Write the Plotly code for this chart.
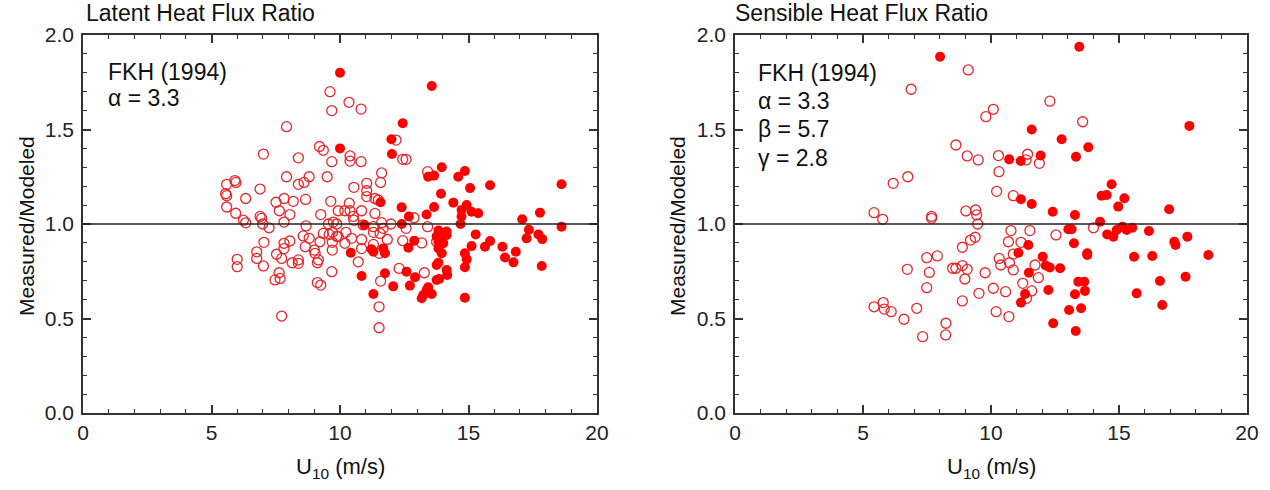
import plotly.graph_objects as go

# ---------------- data ----------------
lat_open_x = [9.61, 9.68, 7.92, 9.2, 9.35, 9.68, 7.02, 8.38, 7.92, 8.38, 8.6, 8.8, 9.5, 5.59, 5.91, 5.95, 5.55, 5.59,
              6.89, 6.33, 5.59, 7.51, 7.83, 8.18, 8.66, 7.64, 8.05, 9.64, 9.25, 9.93, 5.94, 6.24, 6.33, 6.89, 6.99,
              7.82, 8.68, 9.55, 9.74, 6.95, 7.24, 9.87,
              8.57, 8.8, 9.35, 9.58, 9.22, 9.7, 9.7, 9.93, 7.04, 7.82, 8.05, 7.82, 8.65, 9.0, 9.03, 9.16, 9.12,
              6.76, 6.76, 7.53, 7.73, 6.0, 6.0, 7.02, 8.14, 8.38, 8.38, 7.63, 7.67, 7.47, 9.12, 9.25, 9.68, 7.73,
              10.35, 10.82, 12.18, 10.39, 10.39, 10.82, 12.44, 12.57, 11.62, 11.58, 10.54, 11.04, 11.04, 11.04,
              10.36, 10.39, 10.19, 10.52, 10.54, 10.84, 11.36, 11.49, 11.36, 13.41, 12.88,
              10.9, 11.3, 11.62, 11.98, 12.57, 13.41, 9.71, 10.23, 9.87, 11.3, 11.56, 11.68, 10.19, 10.45, 10.84,
              11.3, 11.84, 12.44, 13.18, 13.76, 10.84, 11.53, 10.71, 12.3, 13.28, 11.58, 11.52, 11.52]
lat_open_y = [1.70, 1.60, 1.515, 1.41, 1.39, 1.33, 1.37, 1.35, 1.25, 1.21, 1.22, 1.25, 1.25, 1.21, 1.23, 1.22, 1.16, 1.15,
              1.185, 1.135, 1.09, 1.115, 1.135, 1.12, 1.13, 1.07, 1.05, 1.12, 1.05, 1.07, 1.057, 1.02, 1.006, 1.04, 1.0,
              1.01, 0.99, 1.0, 1.01, 1.03, 0.98, 1.0,
              0.937, 0.924, 0.95, 0.945, 0.906, 0.903, 0.862, 0.933, 0.903, 0.898, 0.91, 0.87, 0.88, 0.862, 0.845, 0.81, 0.795,
              0.853, 0.818, 0.84, 0.818, 0.813, 0.774, 0.778, 0.795, 0.81, 0.792, 0.742, 0.712, 0.704, 0.69, 0.677, 0.748, 0.513,
              1.644, 1.608, 1.444, 1.36, 1.333, 1.33, 1.342, 1.342, 1.27, 1.22, 1.194, 1.215, 1.176, 1.145,
              1.11, 1.07, 1.07, 1.04, 1.02, 1.07, 1.135, 1.127, 1.056, 1.277, 1.033,
              0.995, 0.986, 1.007, 1.0, 0.977, 0.986, 0.956, 0.956, 0.935, 0.956, 0.95, 0.977, 0.898, 0.924, 0.918,
              0.892, 0.918, 0.912, 0.9, 0.906, 0.87, 0.845, 0.80, 0.765, 0.742, 0.698, 0.562, 0.451]

lat_fill_x = [10.0, 13.57, 10.0, 12.44, 12.0, 12.02, 13.43, 13.66, 13.96, 14.6, 14.86, 15.06, 15.84, 18.62, 13.93, 14.41,
              13.66, 12.4, 12.68, 13.37, 14.73, 14.93, 15.12, 15.38, 14.73, 14.69, 17.09, 17.78, 18.62, 10.95, 12.4, 11.58,
              10.42, 11.23, 11.3, 11.68, 11.75, 10.84, 11.3, 11.75, 12.07, 12.59, 12.92, 12.72, 12.66, 12.89,
              13.83, 14.15, 13.76, 14.02, 13.83, 14.02, 13.83, 13.96, 14.15, 13.76, 13.83, 14.15, 14.17, 13.76, 13.86,
              13.43, 13.37, 13.57, 13.24, 13.18, 14.86, 14.93, 14.86, 14.86, 15.28, 15.12, 15.64, 15.84, 16.32, 16.42,
              16.75, 16.84, 17.35, 17.26, 17.72, 17.87, 17.85]
lat_fill_y = [1.80, 1.73, 1.40, 1.533, 1.448, 1.37, 1.25, 1.256, 1.30, 1.25, 1.28, 1.19, 1.205, 1.21, 1.16, 1.113,
              1.09, 1.088, 1.04, 1.05, 1.074, 1.10, 1.065, 1.057, 1.04, 1.0, 1.025, 1.06, 0.986, 0.995, 1.0, 1.115,
              0.848, 0.866, 0.853, 0.871, 0.845, 0.725, 0.63, 0.739, 0.67, 0.748, 0.718, 0.674, 0.875, 0.912,
              0.965, 0.96, 0.935, 0.942, 0.906, 0.898, 0.871, 0.845, 0.942, 0.783, 0.795, 0.757, 0.73, 0.704, 0.709,
              0.665, 0.651, 0.63, 0.624, 0.607, 0.845, 0.813, 0.771, 0.61, 0.945, 0.883, 0.88, 0.91, 0.88, 0.823,
              0.797, 0.853, 0.97, 0.924, 0.945, 0.92, 0.778]

sen_open_x = [9.11, 6.88, 9.8, 8.63, 9.07, 9.5, 6.75, 6.18, 5.43, 5.77, 7.68, 7.68, 9.02, 9.4, 9.44, 9.48,
              12.3, 10.09, 13.58, 10.29, 11.43, 11.37, 11.89, 10.31, 10.22, 10.87,
              9.38, 9.2, 8.88, 7.49, 7.9, 6.73, 7.59, 8.5, 8.63, 8.88, 9.07, 8.98, 9.77, 7.49, 9.53, 8.88,
              5.43, 5.79, 5.83, 6.1, 7.1, 6.6, 8.24, 7.33, 8.23,
              14.0, 10.78, 11.52, 12.54, 10.68, 11.17, 10.87, 10.32, 10.38, 10.72, 10.87, 11.72, 11.85, 11.24,
              10.09, 10.57, 11.59, 11.39, 10.2, 10.7]
sen_open_y = [1.815, 1.713, 1.568, 1.418, 1.36, 1.339, 1.25, 1.215, 1.06, 1.025, 1.04, 1.03, 1.069, 1.074, 1.048, 1.0,
              1.65, 1.607, 1.541, 1.362, 1.369, 1.339, 1.321, 1.277, 1.173, 1.15,
              0.93, 0.915, 0.877, 0.822, 0.831, 0.76, 0.744, 0.766, 0.766, 0.78, 0.76, 0.709, 0.742, 0.663, 0.633, 0.593,
              0.562, 0.584, 0.55, 0.536, 0.554, 0.496, 0.475, 0.404, 0.413,
              0.98, 0.965, 0.965, 0.942, 0.906, 0.903, 0.841, 0.818, 0.783, 0.795, 0.757, 0.783, 0.716, 0.686,
              0.66, 0.642, 0.646, 0.607, 0.536, 0.51]

sen_fill_x = [8.01, 13.45, 11.59, 17.75, 12.76, 13.8, 13.32, 10.71, 11.16, 11.94, 11.17, 11.59, 12.41, 13.28, 14.71,
              14.32, 14.52, 15.21, 14.97, 16.96, 14.26,
              13.02, 13.15, 14.54, 14.78, 14.91, 15.13, 15.3, 15.52, 16.17, 11.46, 13.24, 17.16, 17.21, 17.67, 11.07,
              13.76, 13.76, 15.59, 16.3, 18.49, 12.02, 12.14, 12.3, 12.7, 11.48, 13.41, 13.64, 12.24, 13.28, 13.67,
              11.33, 11.17, 13.05, 13.52, 12.43, 13.31, 16.6, 17.6, 15.69, 16.69]
sen_fill_y = [1.885, 1.938, 1.50, 1.519, 1.448, 1.406, 1.356, 1.342, 1.333, 1.362, 1.131, 1.106, 1.065, 1.048, 1.21,
              1.15, 1.153, 1.136, 1.092, 1.078, 1.012,
              0.972, 0.972, 0.945, 0.933, 0.968, 0.986, 0.968, 0.98, 0.963, 0.889, 0.898, 0.906, 0.889, 0.933, 0.848,
              0.845, 0.836, 0.827, 0.831, 0.836, 0.827, 0.78, 0.77, 0.766, 0.742, 0.695, 0.695, 0.651, 0.628, 0.646,
              0.63, 0.584, 0.545, 0.554, 0.475, 0.434, 0.698, 0.721, 0.633, 0.571]

x_ticks = [0, 5, 10, 15, 20]
y_ticks = [0.0, 0.5, 1.0, 1.5, 2.0]
y_tick_text = ["0.0", "0.5", "1.0", "1.5", "2.0"]

# ---------------- figure ----------------
FONT = "Arial, Liberation Sans, sans-serif"
RED = "#ff0000"
OPEN_RED = "#e8262a"
W, H = 1270, 490

fig = go.Figure()


def add_panel(ox, oy, fx, fy, xa, ya):
    fig.add_trace(go.Scatter(x=ox, y=oy, mode="markers", xaxis=xa, yaxis=ya, showlegend=False,
                             marker=dict(symbol="circle-open", size=10, color=OPEN_RED, line=dict(width=1.3))))
    fig.add_trace(go.Scatter(x=fx, y=fy, mode="markers", xaxis=xa, yaxis=ya, showlegend=False,
                             marker=dict(symbol="circle", size=10, color=RED, line=dict(width=0))))


add_panel(lat_open_x, lat_open_y, lat_fill_x, lat_fill_y, "x", "y")
add_panel(sen_open_x, sen_open_y, sen_fill_x, sen_fill_y, "x2", "y2")

ydom = [1 - 413 / H, 1 - 35 / H]
common_x = dict(range=[0, 20], tickvals=x_ticks, ticks="inside", ticklen=8, tickwidth=1.5, tickcolor="#333",
                showline=True, linecolor="#333", linewidth=1.5, mirror="ticks", showgrid=False, zeroline=False,
                ticklabelstandoff=0, automargin=False,
                minor=dict(dtick=1, ticks="inside", ticklen=4, tickwidth=1.2, tickcolor="#333", showgrid=False),
                tickfont=dict(family=FONT, size=21, color="#222"))
common_y = dict(range=[0, 2], tickvals=y_ticks, ticktext=y_tick_text, ticks="inside", ticklen=8, tickwidth=1.5,
                tickcolor="#333", showline=True, linecolor="#333", linewidth=1.5, mirror="ticks", showgrid=False,
                zeroline=False, ticklabelstandoff=3, automargin=False,
                minor=dict(dtick=0.1, ticks="inside", ticklen=4, tickwidth=1.2, tickcolor="#333", showgrid=False),
                tickfont=dict(family=FONT, size=21, color="#222"))

fig.update_layout(
    width=W, height=H, margin=dict(l=0, r=0, t=0, b=0, autoexpand=False),
    paper_bgcolor="white", plot_bgcolor="white",
    xaxis=dict(domain=[83 / W, 597 / W], anchor="y", **common_x),
    yaxis=dict(domain=ydom, anchor="x", **common_y),
    xaxis2=dict(domain=[735 / W, 1247 / W], anchor="y2", **common_x),
    yaxis2=dict(domain=ydom, anchor="x2", **common_y),
)

for xr in ["x", "x2"]:
    yr = "y" if xr == "x" else "y2"
    fig.add_shape(type="line", xref=xr + " domain", yref=yr, x0=0, x1=1, y0=1.0, y1=1.0,
                  line=dict(color="#222", width=1.5))

ann = []


def text(x, y, s, size, xanchor="left", angle=0, xref="paper", yref="paper"):
    ann.append(dict(x=x, y=y, xref=xref, yref=yref, text=s, showarrow=False, xanchor=xanchor, yanchor="middle",
                    textangle=angle, font=dict(family=FONT, size=size, color="#111")))


# panel titles
text(84 / W, 1 - 13 / H, "Latent Heat Flux Ratio", 23)
text(733 / W, 1 - 13 / H, "Sensible Heat Flux Ratio", 23)
# y-axis titles
text(26 / W, 1 - 226 / H, "Measured/Modeled", 21, xanchor="center", angle=-90)
text(677 / W, 1 - 226 / H, "Measured/Modeled", 21, xanchor="center", angle=-90)
# x-axis titles
text(340 / W, 1 - 468 / H, "U<sub>10</sub> (m/s)", 22, xanchor="center")
text(991 / W, 1 - 468 / H, "U<sub>10</sub> (m/s)", 22, xanchor="center")
# in-panel labels
text(106 / W, 1 - 72 / H, "FKH (1994)", 23)
text(106 / W, 1 - 98 / H, "α = 3.3", 23)
text(756 / W, 1 - 73 / H, "FKH (1994)", 23)
text(756 / W, 1 - 101 / H, "α = 3.3", 23)
text(756 / W, 1 - 129 / H, "β = 5.7", 23)
text(756 / W, 1 - 158 / H, "γ = 2.8", 23)

fig.update_layout(annotations=ann)
fig.write_html("out.html")
